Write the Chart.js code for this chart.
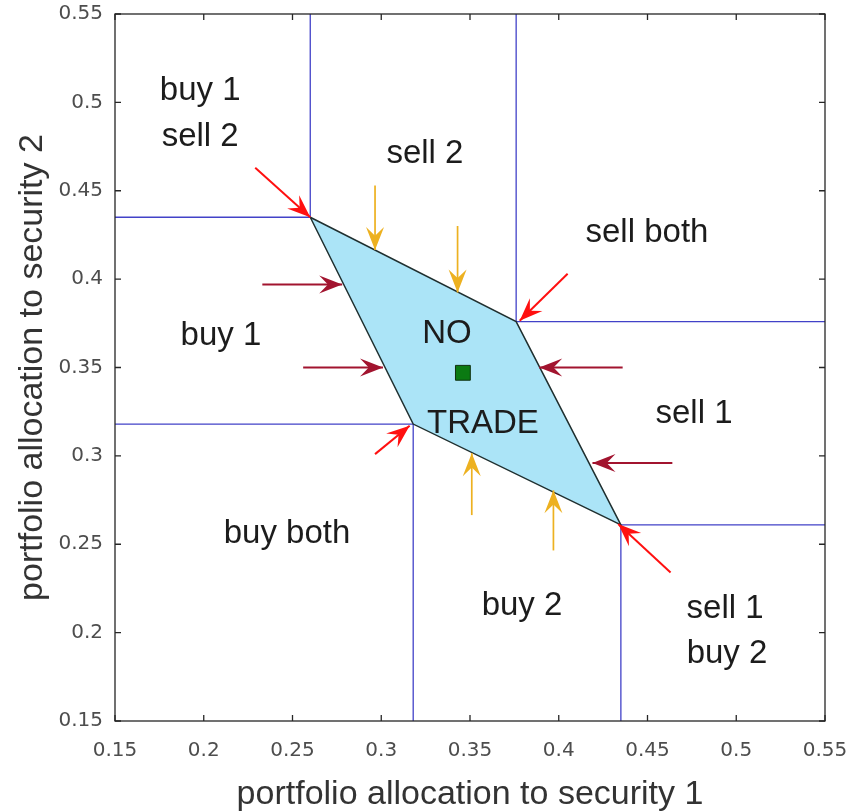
<!DOCTYPE html>
<html>
<head>
<meta charset="utf-8">
<title>No-trade region</title>
<script src="https://cdn.jsdelivr.net/npm/chart.js@4/dist/chart.umd.min.js"></script>
<style>
  html, body { margin: 0; padding: 0; background: #fff; }
  #wrap { width: 856px; height: 812px; }
</style>
</head>
<body>
<div id="wrap"><canvas id="myChart" width="856" height="812"></canvas></div>
<script>
// axis ticks (same on both axes)
const tickValues = [0.15, 0.2, 0.25, 0.3, 0.35, 0.4, 0.45, 0.5, 0.55];
const tickLabels = ['0.15', '0.2', '0.25', '0.3', '0.35', '0.4', '0.45', '0.5', '0.55'];

// corners of the no-trade region (allocation to security 1 / security 2)
const regionX = [0.260, 0.376, 0.435, 0.318, 0.260];
const regionY = [0.435, 0.376, 0.261, 0.318, 0.435];

// target portfolio
const targetX = [0.346];
const targetY = [0.347];

// boundaries of the trade regions, one polyline each
const boundaryX = [
    [0.260, 0.260, 0.15],
    [0.376, 0.376, 0.55],
    [0.15, 0.318, 0.318],
    [0.55, 0.435, 0.435]
];
const boundaryY = [
    [0.55, 0.435, 0.435],
    [0.55, 0.376, 0.376],
    [0.318, 0.318, 0.15],
    [0.261, 0.261, 0.15]
];

// trade arrows, [tail, tip]
const cornerArrowX = [[0.229, 0.260], [0.405, 0.378], [0.2965, 0.316], [0.463, 0.4335]];
const cornerArrowY = [[0.463, 0.435], [0.403, 0.3765], [0.301, 0.317], [0.234, 0.2615]];
const sideArrowX = [[0.233, 0.278], [0.256, 0.301], [0.436, 0.389], [0.464, 0.419]];
const sideArrowY = [[0.397, 0.397], [0.350, 0.350], [0.350, 0.350], [0.296, 0.296]];
const vertArrowX = [[0.2965, 0.2965], [0.343, 0.343], [0.351, 0.351], [0.397, 0.397]];
const vertArrowY = [[0.453, 0.4165], [0.430, 0.3925], [0.2665, 0.3015], [0.2465, 0.2805]];

// region labels (centre x, baseline y)
const labelText = ['buy 1', 'sell 2', 'sell 2', 'sell both', 'buy 1', 'NO', 'TRADE', 'sell 1', 'buy both', 'buy 2', 'sell 1', 'buy 2'];
const labelX = [0.198, 0.198, 0.3246, 0.4497, 0.2097, 0.337, 0.3573, 0.4762, 0.2469, 0.3793, 0.4937, 0.4948];
const labelY = [0.5013, 0.4753, 0.4657, 0.421, 0.3627, 0.3638, 0.3129, 0.3185, 0.2506, 0.2099, 0.2082, 0.1827];

const RED = '#ff1010';
const DARKRED = '#a2142f';
const GOLD = '#edb120';
const BLUE = '#4242c8';

const toPoints = (xs, ys) => xs.map((v, i) => ({ x: v, y: ys[i] }));

const arrowSets = [
    { xs: cornerArrowX, ys: cornerArrowY, color: RED, width: 2 },
    { xs: sideArrowX, ys: sideArrowY, color: DARKRED, width: 2 },
    { xs: vertArrowX, ys: vertArrowY, color: GOLD, width: 1.7 }
];

// datasets: first in the list is drawn on top
const datasets = [];
datasets.push({
    label: 'target',
    data: toPoints(targetX, targetY),
    pointStyle: 'rect',
    pointRadius: 10.5,
    backgroundColor: '#0b7a12',
    borderColor: '#103010',
    borderWidth: 1,
    showLine: false
});
arrowSets.forEach(set => {
    set.xs.forEach((xs, i) => {
        datasets.push({
            data: toPoints(xs, set.ys[i]),
            showLine: true,
            borderColor: set.color,
            borderWidth: set.width,
            pointRadius: 0
        });
    });
});
datasets.push({
    label: 'no trade',
    data: toPoints(regionX, regionY),
    showLine: true,
    fill: 'shape',
    backgroundColor: '#abe4f7',
    borderColor: '#1f2f2f',
    borderWidth: 1.5,
    pointRadius: 0,
    tension: 0
});
boundaryX.forEach((xs, i) => {
    datasets.push({
        data: toPoints(xs, boundaryY[i]),
        showLine: true,
        borderColor: BLUE,
        borderWidth: 1.3,
        pointRadius: 0
    });
});

// notched arrow head at the tip
function drawHead(ctx, x0, y0, x1, y1, color) {
    const L = 23, W = 18, notch = 0.62 * L;
    const ang = Math.atan2(y1 - y0, x1 - x0);
    const c = Math.cos(ang), s = Math.sin(ang);
    const pt = (a, b) => [x1 - a * c - b * s, y1 - a * s + b * c];
    const p1 = pt(L, W / 2), p2 = pt(notch, 0), p3 = pt(L, -W / 2);
    ctx.beginPath();
    ctx.moveTo(x1, y1);
    ctx.lineTo(p1[0], p1[1]);
    ctx.lineTo(p2[0], p2[1]);
    ctx.lineTo(p3[0], p3[1]);
    ctx.closePath();
    ctx.fillStyle = color;
    ctx.fill();
}

const overlay = {
    id: 'overlay',
    afterDatasetsDraw(chart) {
        const { ctx, chartArea: a, scales: { x, y } } = chart;
        ctx.save();

        arrowSets.forEach(set => {
            set.xs.forEach((xs, i) => {
                drawHead(ctx,
                    x.getPixelForValue(xs[0]), y.getPixelForValue(set.ys[i][0]),
                    x.getPixelForValue(xs[1]), y.getPixelForValue(set.ys[i][1]),
                    set.color);
            });
        });

        ctx.fillStyle = '#1c1c1c';
        ctx.font = '33px "Liberation Sans", Arial, sans-serif';
        ctx.textAlign = 'center';
        ctx.textBaseline = 'alphabetic';
        labelText.forEach((t, i) => {
            ctx.fillText(t, x.getPixelForValue(labelX[i]), y.getPixelForValue(labelY[i]));
        });

        // axes box with inward ticks
        ctx.strokeStyle = '#262626';
        ctx.lineWidth = 1.3;
        ctx.strokeRect(a.left, a.top, a.width, a.height);
        ctx.beginPath();
        x.ticks.forEach(t => {
            const px = x.getPixelForValue(t.value);
            ctx.moveTo(px, a.bottom); ctx.lineTo(px, a.bottom - 6);
            ctx.moveTo(px, a.top); ctx.lineTo(px, a.top + 6);
        });
        y.ticks.forEach(t => {
            const py = y.getPixelForValue(t.value);
            ctx.moveTo(a.left, py); ctx.lineTo(a.left + 6, py);
            ctx.moveTo(a.right, py); ctx.lineTo(a.right - 6, py);
        });
        ctx.stroke();
        ctx.restore();
    }
};

const tickFont = { family: '"DejaVu Sans", sans-serif', size: 20 };
const titleFont = { family: '"Liberation Sans", Arial, sans-serif', size: 34, lineHeight: 1.1 };

// fixed scale boxes so the plot area lands where the reference has it
const fitX = scale => {
    scale.height = 91;
    scale.paddingLeft = 0;
    scale.paddingRight = 0;
};
const fitY = scale => {
    scale.width = 115;
    scale.paddingTop = 0;
    scale.paddingBottom = 0;
};

new Chart(document.getElementById('myChart'), {
    type: 'scatter',
    data: { datasets: datasets },
    options: {
        responsive: false,
        animation: false,
        events: [],
        devicePixelRatio: 1,
        layout: { padding: { top: 14, right: 31, bottom: 0, left: 0 } },
        plugins: {
            legend: { display: false },
            tooltip: { enabled: false }
        },
        scales: {
            x: {
                type: 'linear',
                min: 0.15,
                max: 0.55,
                afterBuildTicks: scale => { scale.ticks = tickValues.map(v => ({ value: v })); },
                afterFit: fitX,
                ticks: {
                    callback: (v, i) => tickLabels[i],
                    font: tickFont,
                    color: '#4d4d4d',
                    padding: 18,
                    maxRotation: 0,
                    autoSkip: false
                },
                grid: { display: false, drawTicks: false },
                border: { display: false },
                title: {
                    display: true,
                    text: 'portfolio allocation to security 1',
                    font: titleFont,
                    color: '#333333',
                    padding: { top: 0, bottom: -1 }
                }
            },
            y: {
                type: 'linear',
                min: 0.15,
                max: 0.55,
                afterBuildTicks: scale => { scale.ticks = tickValues.map(v => ({ value: v })); },
                afterFit: fitY,
                ticks: {
                    callback: (v, i) => tickLabels[i],
                    font: tickFont,
                    color: '#4d4d4d',
                    padding: 12,
                    autoSkip: false
                },
                grid: { display: false, drawTicks: false },
                border: { display: false },
                title: {
                    display: true,
                    text: 'portfolio allocation to security 2',
                    font: titleFont,
                    color: '#333333',
                    padding: { top: 14, bottom: 0 }
                }
            }
        }
    },
    plugins: [overlay]
});
</script>
</body>
</html>
